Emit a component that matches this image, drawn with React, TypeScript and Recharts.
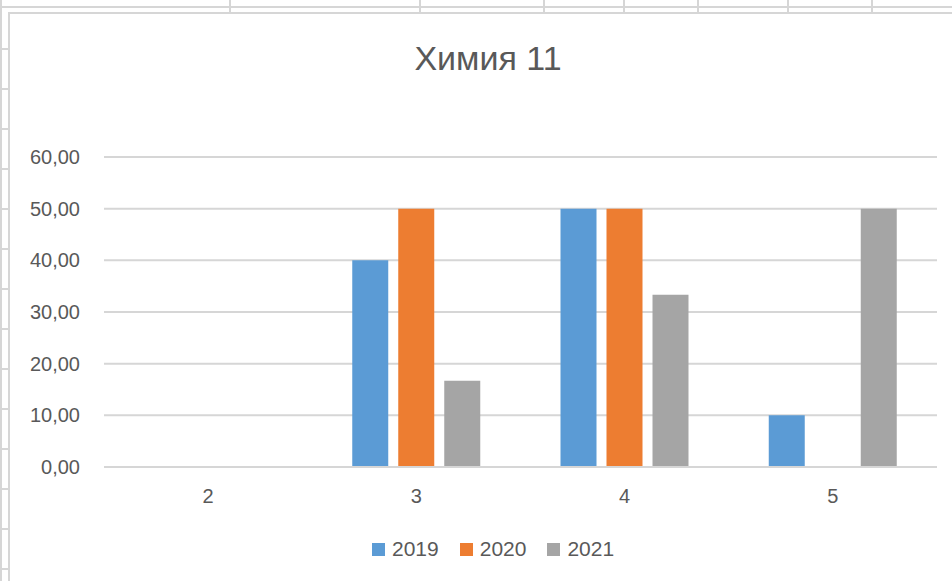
import { BarChart, Bar, XAxis, YAxis, CartesianGrid, Legend } from "recharts";

// Grades on the x axis
const grades = ["2", "3", "4", "5"];

// Share of students (%) per grade, by year
const values2019 = [0, 40, 50, 10];
const values2020 = [0, 50, 50, 0];
const values2021 = [0, 16.67, 33.33, 50];

const yTicks = [0, 10, 20, 30, 40, 50, 60];

const series = [
  { key: "2019", color: "#5B9BD5", values: values2019 },
  { key: "2020", color: "#ED7D31", values: values2020 },
  { key: "2021", color: "#A5A5A5", values: values2021 },
];

const data = grades.map((g, i) => {
  const row: Record<string, string | number> = { grade: g };
  series.forEach((s) => {
    row[s.key] = s.values[i];
  });
  return row;
});

const FONT = '"Liberation Sans", Arial, sans-serif';
const TEXT = "#595959";
const LINE = "#d6d6d6";

// spreadsheet cell lines behind the chart object
const colLines = [229, 419, 543, 623, 697, 787, 871];
const rowLines = [48, 88, 128, 168, 208, 248, 288, 328, 368, 408, 448, 488, 528, 568];

const LegendContent = (props: any) => {
  const payload = props.payload || [];
  return (
    <div style={{ display: "flex", alignItems: "center", fontFamily: FONT, fontSize: 21, color: TEXT }}>
      {payload.map((p: any) => (
        <div key={p.value} style={{ display: "flex", alignItems: "center", marginRight: 21 }}>
          <span style={{ width: 13, height: 13, background: p.color, marginRight: 7, display: "inline-block" }} />
          <span>{p.value}</span>
        </div>
      ))}
    </div>
  );
};

const App = () => {
  return (
    <div style={{ position: "fixed", left: 0, top: 0, width: 952, height: 581, background: "#fff", overflow: "hidden" }}>
      {/* sheet grid */}
      <div style={{ position: "absolute", left: 0, top: 6, width: 952, height: 2, background: LINE }} />
      <div style={{ position: "absolute", left: 0, top: 0, width: 2, height: 581, background: LINE }} />
      {colLines.map((x) => (
        <div key={x} style={{ position: "absolute", left: x, top: 0, width: 2, height: 13, background: LINE }} />
      ))}
      {rowLines.map((y) => (
        <div key={y} style={{ position: "absolute", left: 0, top: y, width: 9, height: 2, background: LINE }} />
      ))}
      {/* chart frame */}
      <div
        style={{
          position: "absolute",
          left: 8,
          top: 12,
          width: 960,
          height: 600,
          borderLeft: `2px solid ${LINE}`,
          borderTop: `2px solid ${LINE}`,
          background: "#fff",
        }}
      />
      <div
        style={{
          position: "absolute",
          left: 288,
          top: 41,
          width: 400,
          textAlign: "center",
          fontFamily: FONT,
          fontSize: 34,
          lineHeight: "34px",
          color: TEXT,
        }}
      >
        Химия 11
      </div>
      <div style={{ position: "absolute", left: 0, top: 0 }}>
        <BarChart
          width={952}
          height={581}
          data={data}
          margin={{ top: 157, right: 15, bottom: 60, left: 14 }}
          barSize={36}
          barGap={10}
        >
          <CartesianGrid vertical={false} stroke={LINE} strokeWidth={2} />
          <XAxis
            dataKey="grade"
            axisLine={{ stroke: LINE, strokeWidth: 2 }}
            tickLine={false}
            tickSize={0}
            tickMargin={22}
            tick={{ fill: TEXT, fontSize: 20, fontFamily: FONT }}
          />
          <YAxis
            width={90}
            domain={[0, 60]}
            ticks={yTicks}
            axisLine={false}
            tickLine={false}
            tickSize={0}
            tickMargin={24}
            tickFormatter={(v: number) => v.toFixed(2).replace(".", ",")}
            tick={{ fill: TEXT, fontSize: 20, fontFamily: FONT }}
          />
          {series.map((s) => (
            <Bar key={s.key} dataKey={s.key} name={s.key} fill={s.color} isAnimationActive={false} />
          ))}
          <Legend
            content={<LegendContent />}
            wrapperStyle={{ left: 372, top: 537, width: 320, bottom: "auto" }}
          />
        </BarChart>
      </div>
    </div>
  );
};

export default App;
